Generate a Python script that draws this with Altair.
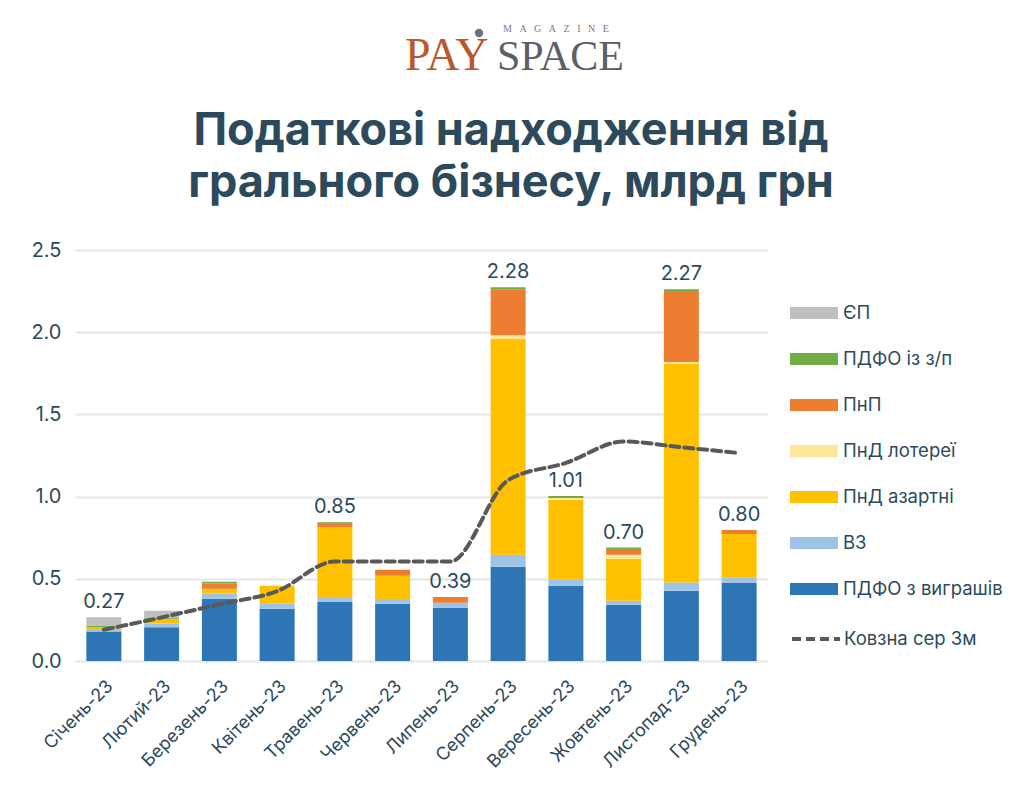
import altair as alt
import pandas as pd

months = ["Січень-23", "Лютий-23", "Березень-23", "Квітень-23", "Травень-23", "Червень-23",
          "Липень-23", "Серпень-23", "Вересень-23", "Жовтень-23", "Листопад-23", "Грудень-23"]

# stacked components, bottom to top
pdfo_wins = [0.180, 0.205, 0.378, 0.318, 0.360, 0.348, 0.324, 0.573, 0.457, 0.342, 0.427, 0.476]
vz        = [0.014, 0.023, 0.032, 0.032, 0.030, 0.029, 0.030, 0.073, 0.037, 0.024, 0.051, 0.034]
pnd_gamb  = [0.013, 0.029, 0.029, 0.107, 0.422, 0.141, 0.000, 1.313, 0.486, 0.255, 1.330, 0.263]
pnd_lott  = [0.000, 0.000, 0.000, 0.000, 0.000, 0.000, 0.000, 0.023, 0.012, 0.025, 0.010, 0.000]
pnp       = [0.000, 0.000, 0.033, 0.000, 0.028, 0.037, 0.036, 0.280, 0.000, 0.036, 0.432, 0.024]
pdfo_sal  = [0.009, 0.004, 0.010, 0.000, 0.004, 0.000, 0.000, 0.012, 0.012, 0.008, 0.012, 0.000]
ep        = [0.050, 0.044, 0.000, 0.000, 0.000, 0.000, 0.000, 0.000, 0.000, 0.000, 0.000, 0.000]

moving_avg = [0.19, 0.265, 0.345, 0.425, 0.605, 0.605, 0.605, 1.10, 1.205, 1.335, 1.30, 1.265]
total_labels = ["0.27", "", "", "", "0.85", "", "0.39", "2.28", "1.01", "0.70", "2.27", "0.80"]

series_bottom_up = ["ПДФО з виграшів", "ВЗ", "ПнД азартні", "ПнД лотереї", "ПнП", "ПДФО із з/п", "ЄП"]
series_values = [pdfo_wins, vz, pnd_gamb, pnd_lott, pnp, pdfo_sal, ep]
legend_order = list(reversed(series_bottom_up))
colors = {"ЄП": "#BFBFBF", "ПДФО із з/п": "#70AD47", "ПнП": "#ED7D31", "ПнД лотереї": "#FFE699",
          "ПнД азартні": "#FFC000", "ВЗ": "#9DC3E6", "ПДФО з виграшів": "#2E75B6"}
line_name = "Ковзна сер 3м"

title_lines = ["Податкові надходження від", "грального бізнесу, млрд грн"]
NB = "\u00a0"
magazine = (NB * 3).join("MAGAZINE")

TXT = "#2C4A5C"
FONT = "Inter"

rows = []
for k, (name, vals) in enumerate(zip(series_bottom_up, series_values)):
    for m, v in zip(months, vals):
        if v > 0:
            rows.append({"month": m, "series": name, "value": v, "ord": k})
bars_df = pd.DataFrame(rows)

tot_df = pd.DataFrame({
    "month": months,
    "total": [sum(s[i] for s in series_values) for i in range(len(months))],
    "label": total_labels,
})
line_df = pd.DataFrame({"month": months, "ma": moving_avg, "name": line_name})

x_enc = alt.X("month:N", sort=months, title=None,
              axis=alt.Axis(labelAngle=-45, labelFontSize=18, labelColor=TXT, labelFont=FONT,
                            ticks=False, domain=False, labelPadding=16, grid=False))
y_scale = alt.Scale(domain=[0, 2.5], nice=False)

bars = alt.Chart(bars_df).mark_bar(size=35).encode(
    x=x_enc,
    y=alt.Y("sum(value):Q", scale=y_scale, title=None, stack="zero",
            axis=alt.Axis(values=[0, 0.5, 1.0, 1.5, 2.0, 2.5], format=".1f", labelFontSize=20,
                          labelColor=TXT, labelFont=FONT, ticks=False, domain=False,
                          gridColor="#E6E6E6", gridWidth=2, labelPadding=14)),
    fill=alt.Fill("series:N",
                  scale=alt.Scale(domain=legend_order, range=[colors[s] for s in legend_order]),
                  legend=alt.Legend(title=None, orient="none", legendX=715, legendY=39,
                                    symbolType="M-1,-0.25L1,-0.25L1,0.25L-1,0.25Z",
                                    symbolSize=2304, symbolStrokeWidth=0,
                                    labelFontSize=18.5, labelColor=TXT, labelFont=FONT,
                                    labelOffset=5, rowPadding=12, padding=0)),
    order=alt.Order("ord:Q", sort="ascending"),
)

line = alt.Chart(line_df).mark_line(strokeWidth=4, strokeDash=[9, 5], interpolate="monotone",
                                    strokeCap="round").encode(
    x=alt.X("month:N", sort=months),
    y=alt.Y("ma:Q", scale=y_scale),
    stroke=alt.Stroke("name:N", scale=alt.Scale(domain=[line_name], range=["#595959"]),
                      legend=alt.Legend(title=None, orient="none", legendX=715, legendY=363,
                                        symbolType="stroke", symbolSize=2304, symbolStrokeWidth=4,
                                        symbolDash=[9, 5], labelFontSize=18.5, labelColor=TXT,
                                        labelFont=FONT, labelOffset=2, padding=0)),
)

labels = alt.Chart(tot_df).mark_text(dy=-9, baseline="alphabetic", fontSize=20, font=FONT,
                                     color=TXT).encode(
    x=alt.X("month:N", sort=months),
    y=alt.Y("total:Q", scale=y_scale),
    text="label:N",
)

title1 = alt.Chart(pd.DataFrame({"t": [title_lines[0]]})).mark_text(
    font=FONT, fontSize=45, fontWeight="bold", color=TXT, align="center", baseline="alphabetic"
).encode(x=alt.value(436), y=alt.value(-105), text="t:N")
title2 = alt.Chart(pd.DataFrame({"t": [title_lines[1]]})).mark_text(
    font=FONT, fontSize=45, fontWeight="bold", color=TXT, align="center", baseline="alphabetic"
).encode(x=alt.value(436), y=alt.value(-53), text="t:N")

logo_pa = alt.Chart(pd.DataFrame({"t": ["PAY"]})).mark_text(
    font="Liberation Serif", fontSize=46, color="#B8582B", align="left", baseline="alphabetic"
).encode(x=alt.value(330), y=alt.value(-180), text="t:N")
logo_space = alt.Chart(pd.DataFrame({"t": ["SPACE"]})).mark_text(
    font="Liberation Serif", fontSize=42, color="#5B6068", align="left", baseline="alphabetic"
).encode(x=alt.value(422), y=alt.value(-180), text="t:N")
logo_mag = alt.Chart(pd.DataFrame({"t": [magazine]})).mark_text(
    font="Liberation Serif", fontSize=10, color="#777B80", align="left", baseline="alphabetic"
).encode(x=alt.value(428), y=alt.value(-218), text="t:N")
logo_ball = alt.Chart(pd.DataFrame({"t": [1]})).mark_circle(size=70, color="#6F7378", opacity=1).encode(
    x=alt.value(404), y=alt.value(-217))

chart = alt.layer(bars, line, labels, title1, title2, logo_pa, logo_space, logo_mag, logo_ball).resolve_scale(
    fill="independent", stroke="independent"
).properties(
    width=693, height=411,
    padding={"left": 67, "top": 242, "right": 248, "bottom": 120},
    autosize=alt.AutoSizeParams(type="none"),
    background="#FFFFFF",
).configure_view(stroke=None)

chart.save("out.html", embed_options={"renderer": "svg", "actions": False})
